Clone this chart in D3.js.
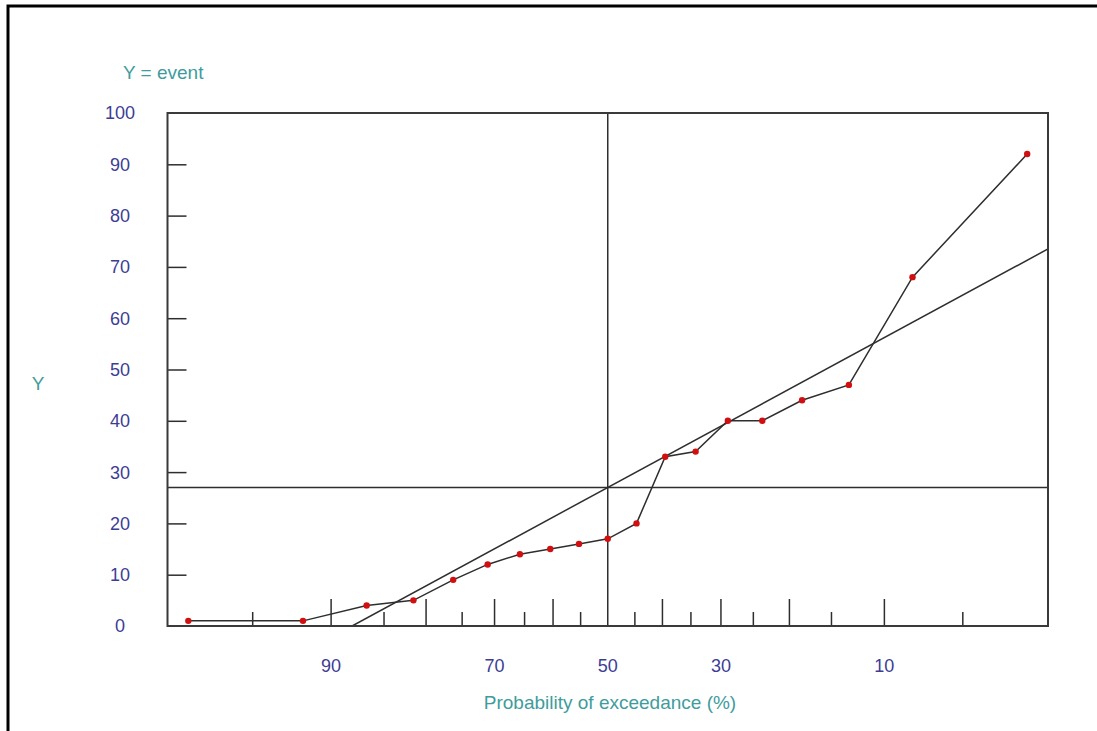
<!DOCTYPE html>
<html>
<head>
<meta charset="utf-8">
<script src="https://cdn.jsdelivr.net/npm/d3@7"></script>
<style>
  body { margin: 0; background: #fff; }
  svg { display: block; }
</style>
</head>
<body>
<div id="chart"></div>
<script>

// data

var probs = [97.4, 92.1, 86.8, 81.6, 76.3, 71.1, 65.8, 60.5, 55.3, 50.0,
             44.7, 39.5, 34.2, 28.9, 23.7, 18.4, 13.2, 7.9, 2.6];
var values = [1, 1, 4, 5, 9, 12, 14, 15, 16, 17,
              20, 33, 34, 40, 40, 44, 47, 68, 92];
var xTicks = [95, 90, 85, 80, 75, 70, 65, 60, 55, 50, 45, 40, 35, 30, 25, 20, 15, 10, 5];
var xLabels = [90, 70, 50, 30, 10];
var yTicks = [0, 10, 20, 30, 40, 50, 60, 70, 80, 90, 100];
var probEdges = [97.93, 2.07];
var meanY = 27;
var fitSd = 22.8;

var W = 1097, H = 731;
var pLeft = 167.5, pRight = 1048, pTop = 113, pBottom = 626;

var labelBlue = "#3d3d94";
var teal = "#3f9c9c";
var lineCol = "#2e2e2e";

// inverse normal cdf (Acklam)

var qnorm = function(p) {
    var a = [-3.969683028665376e+01, 2.209460984245205e+02, -2.759285104469687e+02,
             1.383577518672690e+02, -3.066479806614716e+01, 2.506628277459239e+00];
    var b = [-5.447609879822406e+01, 1.615858368580409e+02, -1.556989798598866e+02,
             6.680131188771972e+01, -1.328068155288572e+01];
    var c = [-7.784894002430293e-03, -3.223964580411365e-01, -2.400758277161838e+00,
             -2.549732539343734e+00, 4.374664141464968e+00, 2.938163982698783e+00];
    var d = [7.784695709041462e-03, 3.224671290700398e-01, 2.445134137142996e+00,
             3.754408661907416e+00];
    var plow = 0.02425, q, r;
    if ( p < plow ) {
        q = Math.sqrt(-2 * Math.log(p));
        return (((((c[0]*q+c[1])*q+c[2])*q+c[3])*q+c[4])*q+c[5]) /
               ((((d[0]*q+d[1])*q+d[2])*q+d[3])*q+1);
    }
    if ( p > 1 - plow ) {
        q = Math.sqrt(-2 * Math.log(1 - p));
        return -(((((c[0]*q+c[1])*q+c[2])*q+c[3])*q+c[4])*q+c[5]) /
                ((((d[0]*q+d[1])*q+d[2])*q+d[3])*q+1);
    }
    q = p - 0.5;
    r = q * q;
    return (((((a[0]*r+a[1])*r+a[2])*r+a[3])*r+a[4])*r+a[5])*q /
           (((((b[0]*r+b[1])*r+b[2])*r+b[3])*r+b[4])*r+1);
}

// exceedance % -> normal variate
var zOf = function(p) { return qnorm(1 - p / 100); }

var zScale = d3.scaleLinear()
    .domain([zOf(probEdges[0]), zOf(probEdges[1])])
    .range([pLeft, pRight]);
var x = function(p) { return zScale(zOf(p)); }

var y = d3.scaleLinear().domain([0, 100]).range([pBottom, pTop]);

var svg = d3.select("#chart").append("svg")
    .attr("width", W)
    .attr("height", H)
    .style("font-family", "'Liberation Sans', Arial, sans-serif");

// page border (top and left only)
svg.append("path")
    .attr("d", "M8," + H + "V6H" + W)
    .attr("fill", "none")
    .attr("stroke", "#000")
    .attr("stroke-width", 3);

svg.append("defs").append("clipPath").attr("id", "plotclip")
    .append("rect")
    .attr("x", pLeft).attr("y", pTop)
    .attr("width", pRight - pLeft).attr("height", pBottom - pTop);

// y axis: labels outside, ticks pointing inward
var yAxis = d3.axisRight(y).tickValues(yTicks.slice(1, -1)).tickSize(19).tickFormat("");
var yg = svg.append("g").attr("transform", "translate(" + pLeft + ",0)").call(yAxis);
yg.select(".domain").remove();
yg.selectAll("line").attr("stroke", lineCol).attr("stroke-width", 1.5);

svg.selectAll(".ylab")
    .data(yTicks)
    .enter()
    .append("text")
    .attr("class", "ylab")
    .attr("x", 120)
    .attr("y", function(d) { return y(d); })
    .attr("dy", "0.36em")
    .attr("text-anchor", "middle")
    .attr("font-size", 18)
    .attr("fill", labelBlue)
    .text(function(d) { return d; });

// x ticks: long at tens, short at fives
svg.selectAll(".xtick")
    .data(xTicks.filter(function(d) { return d != 50; }))
    .enter()
    .append("line")
    .attr("class", "xtick")
    .attr("x1", function(d) { return x(d); })
    .attr("x2", function(d) { return x(d); })
    .attr("y1", pBottom)
    .attr("y2", function(d) { return d % 10 == 0 ? pBottom - 27 : pBottom - 14; })
    .attr("stroke", lineCol)
    .attr("stroke-width", 1.5);

svg.selectAll(".xlab")
    .data(xLabels)
    .enter()
    .append("text")
    .attr("class", "xlab")
    .attr("x", function(d) { return x(d); })
    .attr("y", 666)
    .attr("dy", "0.36em")
    .attr("text-anchor", "middle")
    .attr("font-size", 18)
    .attr("fill", labelBlue)
    .text(function(d) { return d; });

// mean lines
svg.append("line")
    .attr("x1", x(50)).attr("x2", x(50))
    .attr("y1", pTop).attr("y2", pBottom)
    .attr("stroke", lineCol).attr("stroke-width", 1.5);
svg.append("line")
    .attr("x1", pLeft).attr("x2", pRight)
    .attr("y1", y(meanY)).attr("y2", y(meanY))
    .attr("stroke", lineCol).attr("stroke-width", 1.5);

// fitted normal line, from Y = 0 to the right edge
var zStart = -meanY / fitSd;
var zEnd = zScale.domain()[1];
svg.append("line")
    .attr("clip-path", "url(#plotclip)")
    .attr("x1", zScale(zStart)).attr("y1", y(0))
    .attr("x2", zScale(zEnd)).attr("y2", y(meanY + fitSd * zEnd))
    .attr("stroke", lineCol).attr("stroke-width", 1.5);

// data polyline and dots
var pts = probs.map(function(p, i) { return [x(p), y(values[i])]; });
svg.append("path")
    .attr("d", d3.line()(pts))
    .attr("fill", "none")
    .attr("stroke", lineCol)
    .attr("stroke-width", 1.5);

// frame
svg.append("rect")
    .attr("x", pLeft).attr("y", pTop)
    .attr("width", pRight - pLeft).attr("height", pBottom - pTop)
    .attr("fill", "none")
    .attr("stroke", "#3a3a3a")
    .attr("stroke-width", 2);

svg.selectAll(".dot")
    .data(pts)
    .enter()
    .append("circle")
    .attr("class", "dot")
    .attr("cx", function(d) { return d[0]; })
    .attr("cy", function(d) { return d[1]; })
    .attr("r", 3.2)
    .attr("fill", "#d01010");

// titles
svg.append("text")
    .attr("x", 123).attr("y", 72).attr("dy", "0.36em")
    .attr("font-size", 19).attr("fill", teal)
    .text("Y = event");
svg.append("text")
    .attr("x", 38).attr("y", 383).attr("dy", "0.36em")
    .attr("text-anchor", "middle")
    .attr("font-size", 19).attr("fill", teal)
    .text("Y");
svg.append("text")
    .attr("x", 610).attr("y", 702).attr("dy", "0.36em")
    .attr("text-anchor", "middle")
    .attr("font-size", 19).attr("fill", teal)
    .text("Probability of exceedance (%)");

</script>
</body>
</html>
